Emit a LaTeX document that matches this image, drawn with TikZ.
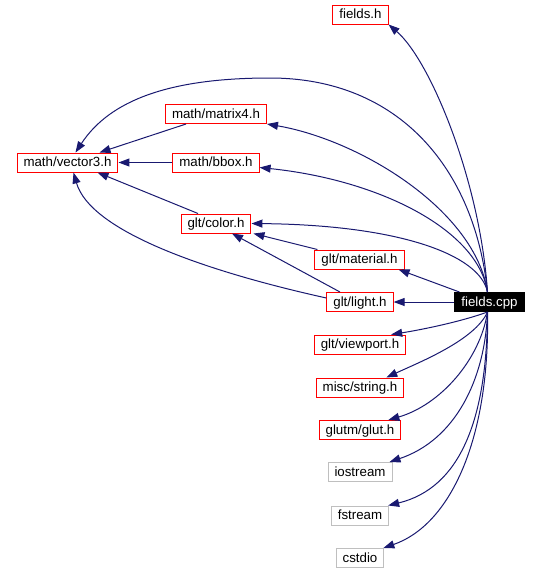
\documentclass[tikz,border=0pt]{standalone}
\usepackage{fontspec}
\setmainfont{Liberation Sans}
\usetikzlibrary{arrows.meta,positioning}
\definecolor{edgeblue}{HTML}{191970}
\definecolor{boxgray}{HTML}{BFBFBF}

\begin{document}
\begin{tikzpicture}[x=1pt,y=-1pt,
  file/.style={draw=red, fill=white, line width=1pt, minimum height=19pt,
    inner xsep=6.5pt, inner ysep=0pt, text height=9.6pt, text depth=0.8pt,
    font=\fontsize{13.3pt}{16pt}\selectfont},
  sysfile/.style={file, draw=boxgray},
  mainfile/.style={file, draw=black, fill=black, text=white},
  dep/.style={draw=edgeblue, line width=1pt, -{Triangle[length=11pt,width=8pt]}}]
\useasboundingbox (0,0) rectangle (540,574);
% header files
\node[file] (fh) at (360.5,14.5) {fields.h};
\node[file] (mat) at (216,114) {math/matrix4.h};
\node[file] (vec) at (67.5,162.5) {math/vector3.h};
\node[file] (bbox) at (216,162.5) {math/bbox.h};
\node[file] (color) at (216,223.5) {glt/color.h};
\node[file] (mater) at (359.5,259.5) {glt/material.h};
\node[file] (light) at (360,302) {glt/light.h};
\node[mainfile] (cpp) at (489.5,302) {fields.cpp};
\node[file] (view) at (360,344.5) {glt/viewport.h};
\node[file] (str) at (360,387.5) {misc/string.h};
\node[file] (glut) at (360,430) {glutm/glut.h};
\node[sysfile] (ios) at (360,472) {iostream};
\node[sysfile] (fst) at (360,515.5) {fstream};
\node[sysfile] (cst) at (360,558) {cstdio};
% fields.cpp upwards
\draw[dep] ([xshift=-2pt]cpp.north) .. controls (480,180) and (430,60) .. (fh.south east);
\draw[dep] ([xshift=-2pt]cpp.north) .. controls (475,170) and (400,78) .. (270,78)
  .. controls (170,78) and (110,100) .. ([xshift=8pt]vec.north);
\draw[dep] ([xshift=-2pt]cpp.north) .. controls (475,210) and (360,140) .. (mat.south east);
\draw[dep] ([xshift=-2pt]cpp.north) .. controls (478,230) and (380,180) .. ([yshift=-5pt]bbox.east);
\draw[dep] ([xshift=-2pt]cpp.north) .. controls (480,255) and (400,225) .. (color.east);
\draw[dep] ([xshift=5pt]cpp.north west) -- ([xshift=-6pt]mater.south east);
\draw[dep] (cpp.west) -- (light.east);
% between headers
\draw[dep] ([xshift=3pt]mater.north west) -- ([xshift=2pt]color.south east);
\draw[dep] ([xshift=-20pt]light.north) -- ([xshift=16pt]color.south);
\draw[dep] ([yshift=4pt]light.west) .. controls (200,270) and (90,230) .. ([xshift=6pt]vec.south);
\draw[dep] ([xshift=-18pt]color.north) -- ([xshift=30pt]vec.south);
\draw[dep] ([xshift=-30pt]mat.south) -- ([xshift=32pt]vec.north);
\draw[dep] (bbox.west) -- (vec.east);
% fields.cpp downwards
\foreach \n/\s/\ax/\ay/\bx/\by in {view/-15/460/322/420/330, str/-18/475/340/420/362,
    glut/-13/480/360/440/405, ios/-3/485/380/455/440, fst/-1/487/420/460/488, cst/-1/490/440/450/525}
  \draw[dep] ([xshift=-2pt]cpp.south) .. controls (\ax,\ay) and (\bx,\by) .. ([xshift=\s pt]\n.north east);
\end{tikzpicture}
\end{document}
